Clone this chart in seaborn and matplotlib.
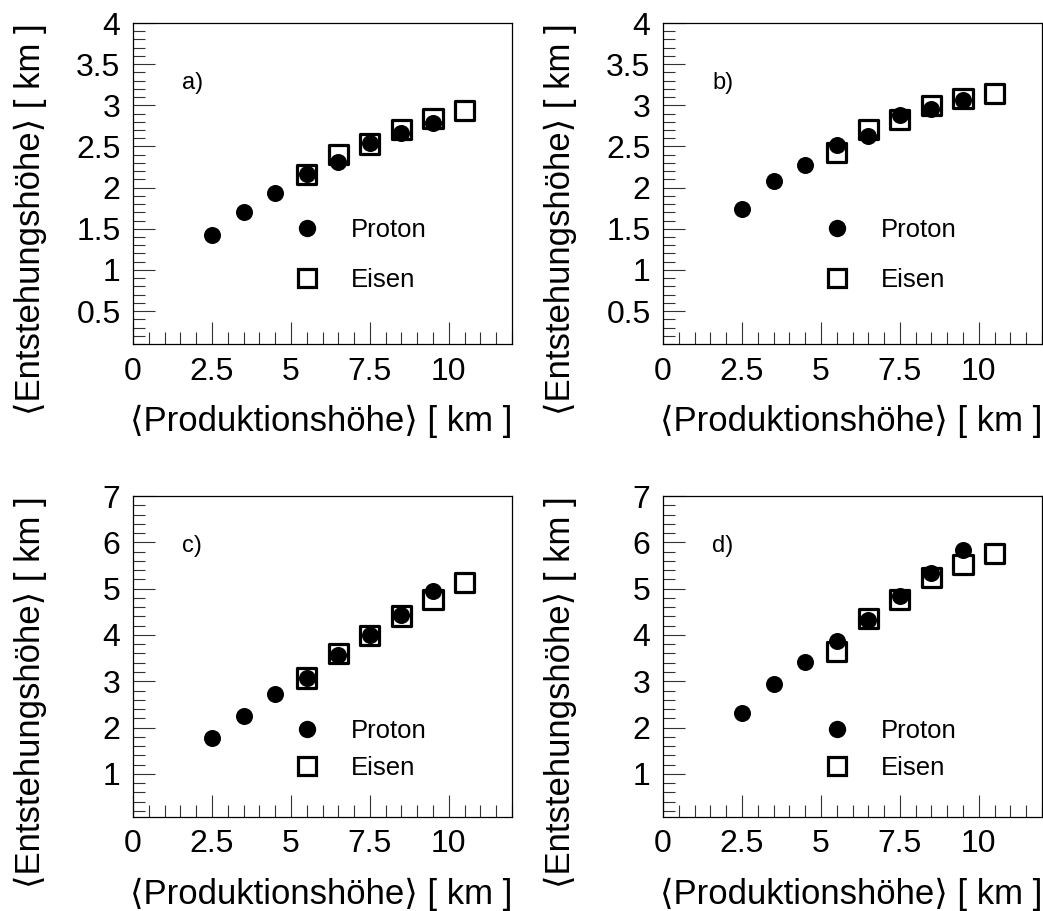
import numpy as np
import pandas as pd
import matplotlib
matplotlib.use("Agg")
import matplotlib.pyplot as plt
from matplotlib.ticker import MultipleLocator
from matplotlib.lines import Line2D
import seaborn as sns

# Mean production height bins [km]
x_proton = [2.5, 3.5, 4.5, 5.5, 6.5, 7.5, 8.5, 9.5]
x_eisen = [5.5, 6.5, 7.5, 8.5, 9.5, 10.5]

# Mean origin height [km] for each panel
proton_a = [1.42, 1.70, 1.93, 2.16, 2.31, 2.54, 2.66, 2.78]
eisen_a = [2.16, 2.40, 2.53, 2.71, 2.84, 2.94]
proton_b = [1.74, 2.08, 2.27, 2.52, 2.63, 2.88, 2.96, 3.06]
eisen_b = [2.43, 2.71, 2.83, 3.00, 3.08, 3.14]
proton_c = [1.78, 2.24, 2.72, 3.08, 3.57, 3.99, 4.43, 4.95]
eisen_c = [3.07, 3.60, 3.99, 4.41, 4.77, 5.14]
proton_d = [2.31, 2.95, 3.42, 3.86, 4.33, 4.85, 5.33, 5.83]
eisen_d = [3.64, 4.35, 4.76, 5.24, 5.53, 5.75]

panel_names = ["a)", "b)", "c)", "d)"]
xlabel = "\u27e8Produktionsh\u00f6he\u27e9 [ km ]"
ylabel = "\u27e8Entstehungsh\u00f6he\u27e9 [ km ]"

sns.set_style("white")
plt.rcParams["font.family"] = ["Liberation Sans", "DejaVu Sans"]
plt.rcParams.update({
    "text.color": "black",
    "axes.labelcolor": "black",
    "xtick.color": "black",
    "ytick.color": "black",
})

fig = plt.figure(figsize=(10.43, 9.11), dpi=100)
W, H = 1043.0, 911.0

# axes boxes in pixels: left, top, right, bottom
boxes = [(133, 23, 512, 344), (663, 23, 1042, 344),
         (133, 496, 512, 817), (663, 496, 1042, 817)]

datasets = [(proton_a, eisen_a), (proton_b, eisen_b),
            (proton_c, eisen_c), (proton_d, eisen_d)]

for i, ((l, t, r, b), (pv, ev), name) in enumerate(zip(boxes, datasets, panel_names)):
    ax = fig.add_axes([l / W, 1 - b / H, (r - l) / W, (b - t) / H])
    df = pd.concat([
        pd.DataFrame({"x": x_eisen, "y": ev, "Teilchen": "Eisen"}),
        pd.DataFrame({"x": x_proton, "y": pv, "Teilchen": "Proton"}),
    ], ignore_index=True)

    sns.scatterplot(data=df[df.Teilchen == "Eisen"], x="x", y="y", ax=ax,
                    marker="s", s=190, facecolor="none", edgecolor="black",
                    linewidth=2.3, zorder=3, legend=False)
    sns.scatterplot(data=df[df.Teilchen == "Proton"], x="x", y="y", ax=ax,
                    marker="o", s=150, color="black", edgecolor="black",
                    linewidth=0, zorder=4, legend=False)

    top_row = i < 2
    ax.set_xlim(0, 12)
    if top_row:
        ax.set_ylim(0.1, 4.0)
        ax.yaxis.set_minor_locator(MultipleLocator(0.1))
        ax.set_yticks([0.5, 1, 1.5, 2, 2.5, 3, 3.5, 4])
        ax.set_yticklabels(["0.5", "1", "1.5", "2", "2.5", "3", "3.5", "4"])
    else:
        ax.set_ylim(0.07, 7.0)
        ax.yaxis.set_minor_locator(MultipleLocator(0.2))
        ax.set_yticks([1, 2, 3, 4, 5, 6, 7])
        ax.set_yticklabels(["1", "2", "3", "4", "5", "6", "7"])
    ax.set_xticks([0, 2.5, 5, 7.5, 10])
    ax.set_xticklabels(["0", "2.5", "5", "7.5", "10"])
    ax.xaxis.set_minor_locator(MultipleLocator(0.5))

    ax.tick_params(axis="both", which="major", direction="in", length=16,
                   width=0.8, color="#333333", labelcolor="black", labelsize=23,
                   bottom=True, left=True, top=False, right=False)
    ax.tick_params(axis="both", which="minor", direction="in", length=8.5,
                   width=0.8, color="#333333",
                   bottom=True, left=True, top=False, right=False)
    ax.tick_params(axis="x", which="major", pad=9)
    ax.tick_params(axis="y", which="major", pad=9)
    for sp in ax.spines.values():
        sp.set_color("black")
        sp.set_linewidth(0.9)
        sp.set_visible(True)

    ax.set_xlabel(xlabel, fontsize=25, ha="right", va="center", color="black")
    ax.set_ylabel(ylabel, fontsize=25, ha="right", va="center", color="black")
    ax.xaxis.set_label_coords(1.0, -77 / (b - t))
    ax.yaxis.set_label_coords(-103 / (r - l), 1.0)

    ax.text(0.13, 0.813 if top_row else 0.844, name, transform=ax.transAxes,
            fontsize=17, ha="left", va="center", color="black")

    handles = [
        Line2D([], [], marker="o", linestyle="none", markersize=12.5,
               markerfacecolor="black", markeredgecolor="black", markeredgewidth=0),
        Line2D([], [], marker="s", linestyle="none", markersize=13,
               markerfacecolor="none", markeredgecolor="black", markeredgewidth=2.3),
    ]
    leg = ax.legend(handles, ["Proton", "Eisen"], loc="upper left",
                    bbox_to_anchor=(0.426, 0.391 if top_row else 0.306),
                    frameon=False, fontsize=18.5, borderpad=0, borderaxespad=0,
                    handlelength=1.0, handletextpad=1.18,
                    labelspacing=1.0 if top_row else 0.52)
    for txt in leg.get_texts():
        txt.set_color("black")

    ax.set_facecolor("white")

fig.savefig("out.png", dpi=100, facecolor="white")
